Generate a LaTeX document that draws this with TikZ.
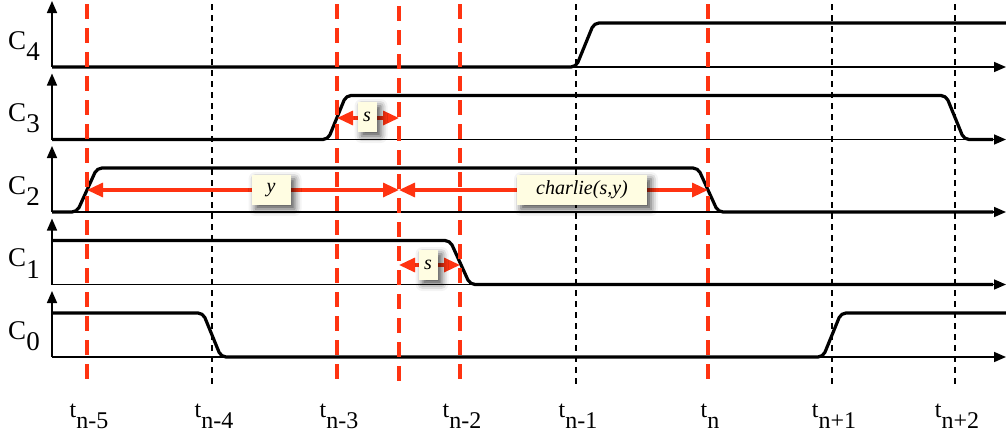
\documentclass[tikz,border=0pt]{standalone}
\usepackage{fontspec}
\setmainfont{Liberation Serif}
\usetikzlibrary{arrows.meta,shadows.blur}
\definecolor{tred}{RGB}{255,51,17}
\definecolor{boxy}{RGB}{255,253,226}
\begin{document}
\begin{tikzpicture}[x=1pt,y=-1pt,
  sig/.style={line width=3.2pt, rounded corners=5pt, line join=round},
  ax/.style={line width=1.6pt, -{Triangle[length=12pt,width=10pt]}},
  rdash/.style={draw=tred, line width=3.2pt, dash pattern=on 15pt off 9pt},
  bdash/.style={draw=black, line width=1.2pt, dash pattern=on 6pt off 5pt},
  meas/.style={draw=tred, line width=3.2pt, {Triangle[length=16pt,width=14pt]}-{Triangle[length=16pt,width=14pt]}},
  lbl/.style={fill=boxy, minimum height=30pt, inner sep=0pt,
    blur shadow={shadow xshift=4pt, shadow yshift=-4pt, shadow blur radius=7pt, shadow opacity=70},
    font=\itshape\fontsize{20}{22}\selectfont},
  chan/.style={font=\fontsize{27}{30}\selectfont, inner sep=0pt},
  tick/.style={font=\fontsize{24}{28}\selectfont, inner sep=0pt}
]
\useasboundingbox (0,0) rectangle (1006,439);

% axes and channel labels
\foreach \k/\b in {4/67,3/139.5,2/212,1/284.5,0/357} {
  \coordinate (o\k) at (52,\b);
  \coordinate (y\k) at (52,\b-66);
  \coordinate (x\k) at (1006,\b);
  \draw[ax] (o\k) -- (y\k);
  \draw[ax] (o\k) -- (x\k);
  \node[chan] (C\k) at (24,\b-21) {C\raisebox{-0.42em}{\k}};
}

% signals
\draw[sig] (o4) -- (576,67) -- (594,23) -- (1006,23);
\draw[sig] (o3) -- (328,139.5) -- (346,95.5) -- (946,95.5) -- (964,139.5) -- (993,139.5);
\draw[sig] (o2) -- (77,212) -- (97,168) -- (698,168) -- (718,212) -- (993,212);
\draw[sig] (52,240.5) -- (450,240.5) -- (470,284.5) -- (993,284.5);
\draw[sig] (52,313) -- (203,313) -- (221,357) -- (823,357) -- (841,313) -- (1006,313);

% time lines and labels
\foreach \nm/\x/\st/\lab in {a/87/rdash/n-5, b/212/bdash/n-4, c/337/rdash/n-3, e/460/rdash/n-2, f/576/bdash/n-1, g/708/rdash/n, h/832/bdash/n+1, i/955/bdash/n+2} {
  \coordinate (\nm top) at (\x,4);
  \coordinate (\nm bot) at (\x,384);
  \draw[style=\st] (\nm top) -- (\nm bot);
  \node[tick] (t\nm) at (\x+2,416) {t\raisebox{-0.45em}{\lab}};
}
\coordinate (dtop) at (399,6);
\coordinate (dbot) at (399,384);
\draw[rdash] (dtop) -- (dbot);

% measurement arrows
\coordinate (m3a) at (337,118); \coordinate (m3b) at (399,118);
\coordinate (m2a) at (87,190);  \coordinate (m2b) at (399,190); \coordinate (m2c) at (708,190);
\coordinate (m1a) at (399,265); \coordinate (m1b) at (460,265);
\draw[meas] (m3a) -- (m3b);
\draw[meas] (m2a) -- (m2b);
\draw[meas] (m2b) -- (m2c);
\draw[meas] (m1a) -- (m1b);

% labels
\node[lbl, minimum width=19pt] (s3) at (367,117) {s};
\node[lbl, minimum width=39pt] (ylab) at (271,190) {y};
\node[lbl, minimum width=130pt] (clab) at (582,190) {charlie(s,y)};
\node[lbl, minimum width=19pt] (s1) at (428,265) {s};
\end{tikzpicture}
\end{document}
